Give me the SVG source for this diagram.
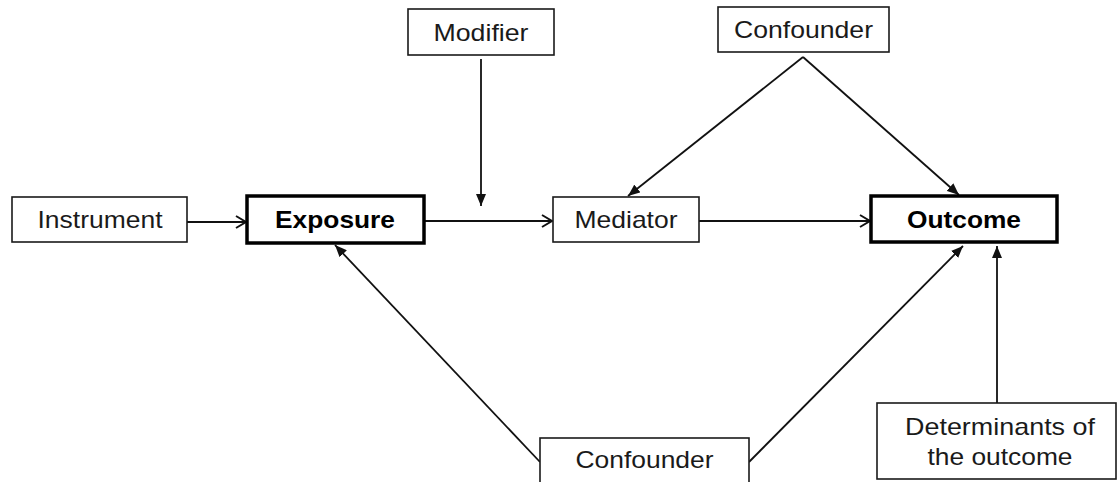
<svg xmlns="http://www.w3.org/2000/svg" width="1119" height="482" viewBox="0 0 1119 482">
<style>
.box{fill:#fff;stroke:#1a1a1a;stroke-width:1.6}
.bold{fill:#fff;stroke:#000;stroke-width:3.5}
.t{font-family:"Liberation Sans",Arial,sans-serif;font-size:24px;fill:#1a1a1a;text-anchor:middle}
.tb{font-weight:bold;fill:#000}
.ln{stroke:#111;stroke-width:1.8;fill:none}
.open{marker-end:url(#open)}
.fill{marker-end:url(#filled)}
</style>
<defs>
<marker id="open" markerUnits="userSpaceOnUse" markerWidth="14" markerHeight="16" refX="11" refY="7" orient="auto" viewBox="0 0 14 16">
<path d="M1,1 L11,7 L1,13" fill="none" stroke="#111" stroke-width="2"/>
</marker>
<marker id="filled" markerUnits="userSpaceOnUse" markerWidth="12" markerHeight="10" refX="12" refY="5" orient="auto" viewBox="0 0 12 10">
<path d="M0,0 L12,5 L0,10 Z" fill="#111"/>
</marker>
</defs>
<g id="connectors">
<line class="ln open" x1="187" y1="222" x2="246" y2="222"/>
<line class="ln open" x1="424" y1="221" x2="552" y2="221"/>
<line class="ln open" x1="699" y1="221" x2="870" y2="221"/>
<line class="ln fill" x1="481" y1="59" x2="481" y2="206"/>
<line class="ln fill" x1="803" y1="57" x2="628" y2="196"/>
<line class="ln fill" x1="803" y1="57" x2="959" y2="195"/>
<line class="ln fill" x1="540" y1="462" x2="335" y2="245"/>
<line class="ln fill" x1="749" y1="462" x2="963" y2="246"/>
<line class="ln fill" x1="997" y1="403" x2="997" y2="246"/>
</g>
<g id="instrument">
<rect class="box" x="12" y="197" width="175" height="45"/>
<text class="t" x="100" y="228" textLength="125" lengthAdjust="spacingAndGlyphs">Instrument</text>
</g>
<g id="exposure">
<rect class="bold" x="247" y="196" width="177" height="47"/>
<text class="t tb" x="335" y="228" textLength="120" lengthAdjust="spacingAndGlyphs">Exposure</text>
</g>
<g id="modifier">
<rect class="box" x="408" y="9" width="146" height="46"/>
<text class="t" x="481" y="40.5" textLength="95" lengthAdjust="spacingAndGlyphs">Modifier</text>
</g>
<g id="mediator">
<rect class="box" x="553" y="197" width="146" height="45"/>
<text class="t" x="626" y="228" textLength="103" lengthAdjust="spacingAndGlyphs">Mediator</text>
</g>
<g id="confounder-top">
<rect class="box" x="718" y="7" width="171" height="45"/>
<text class="t" x="803.5" y="38" textLength="139" lengthAdjust="spacingAndGlyphs">Confounder</text>
</g>
<g id="outcome">
<rect class="bold" x="871" y="196" width="186" height="46"/>
<text class="t tb" x="964" y="228" textLength="114" lengthAdjust="spacingAndGlyphs">Outcome</text>
</g>
<g id="confounder-bottom">
<rect class="box" x="540" y="438" width="209" height="50"/>
<text class="t" x="644.5" y="468" textLength="138" lengthAdjust="spacingAndGlyphs">Confounder</text>
</g>
<g id="determinants">
<rect class="box" x="877" y="403" width="239" height="76"/>
<text class="t" x="1000" y="435" textLength="190" lengthAdjust="spacingAndGlyphs">Determinants of</text>
<text class="t" x="1000" y="465" textLength="145" lengthAdjust="spacingAndGlyphs">the outcome</text>
</g>
</svg>
